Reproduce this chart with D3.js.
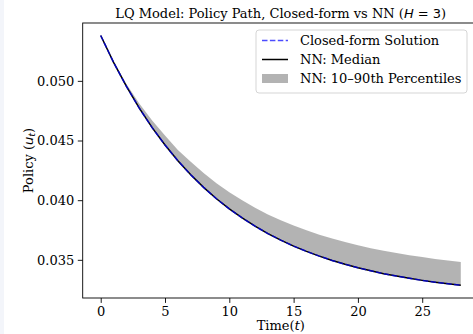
<!DOCTYPE html>
<html>
<head>
<meta charset="utf-8">
<script src="https://cdn.jsdelivr.net/npm/d3@7"></script>
<style>
  html, body { margin: 0; padding: 0; background: #ffffff; }
  svg { display: block; }
  text { font-family: "DejaVu Serif", serif; fill: #000; }
  .math { font-family: "DejaVu Sans", sans-serif; }
</style>
</head>
<body>
<svg id="chart" width="473" height="334"></svg>
<script>
// Time steps
const times = [0, 1, 2, 3, 4, 5, 6, 7, 8, 9, 10, 11, 12, 13, 14, 15, 16, 17, 18, 19, 20, 21, 22, 23, 24, 25, 26, 27, 28];

// Closed-form policy path
const closedForm = [0.05380, 0.05155, 0.04953, 0.04771, 0.04608, 0.04462, 0.04331, 0.04213, 0.04107, 0.04012,
  0.03927, 0.03851, 0.03782, 0.03720, 0.03665, 0.03615, 0.03571, 0.03531, 0.03495, 0.03463,
  0.03434, 0.03408, 0.03384, 0.03364, 0.03345, 0.03328, 0.03313, 0.03299, 0.03287];

// NN median policy path
const nnMedian = [0.05380, 0.05155, 0.04953, 0.04771, 0.04608, 0.04462, 0.04331, 0.04213, 0.04107, 0.04012,
  0.03927, 0.03851, 0.03782, 0.03720, 0.03665, 0.03615, 0.03571, 0.03531, 0.03495, 0.03463,
  0.03434, 0.03408, 0.03384, 0.03364, 0.03345, 0.03328, 0.03313, 0.03299, 0.03287];

// NN 10th and 90th percentiles
const nnP10 = [0.05378, 0.05153, 0.04951, 0.04769, 0.04606, 0.04460, 0.04329, 0.04211, 0.04105, 0.04010,
  0.03925, 0.03849, 0.03780, 0.03718, 0.03663, 0.03613, 0.03569, 0.03529, 0.03493, 0.03461,
  0.03432, 0.03406, 0.03382, 0.03362, 0.03343, 0.03326, 0.03311, 0.03297, 0.03285];
const nnP90 = [0.05380, 0.05165, 0.04973, 0.04811, 0.04668, 0.04542, 0.04421, 0.04323, 0.04227, 0.04142,
  0.04067, 0.03999, 0.03937, 0.03880, 0.03832, 0.03787, 0.03747, 0.03711, 0.03678, 0.03649,
  0.03622, 0.03598, 0.03576, 0.03557, 0.03539, 0.03523, 0.03508, 0.03494, 0.03482];

const xTicks = [0, 5, 10, 15, 20, 25];
const yTicks = [0.035, 0.040, 0.045, 0.050];

const svg = d3.select("#chart");
const plotLeft = 82.7, plotRight = 478.8, plotTop = 23, plotBottom = 298;
const fs = 13;

// light strip on the left edge of the figure
svg.append("rect").attr("x", 0).attr("y", 0).attr("width", 4).attr("height", 334).attr("fill", "#f3f5fa");

// Domains padded by 5% like the plotting default
const xMin = d3.min(times), xMax = d3.max(times);
const xPad = (xMax - xMin) * 0.05;
const yMin = d3.min(nnP10.concat(closedForm, nnMedian));
const yMax = d3.max(nnP90.concat(closedForm, nnMedian));
const yPad = (yMax - yMin) * 0.05;

const x = d3.scaleLinear().domain([xMin - xPad, xMax + xPad]).range([plotLeft, plotRight]);
const y = d3.scaleLinear().domain([yMin - yPad, yMax + yPad]).range([plotBottom, plotTop]);

const rows = times.map((t, i) => ({ t, cf: closedForm[i], med: nnMedian[i], lo: nnP10[i], hi: nnP90[i] }));

// Percentile band
svg.append("path")
  .datum(rows)
  .attr("fill", "#808080")
  .attr("fill-opacity", 0.6)
  .attr("d", d3.area().x(d => x(d.t)).y0(d => y(d.lo)).y1(d => y(d.hi)));

// NN median
svg.append("path")
  .datum(rows)
  .attr("fill", "none")
  .attr("stroke", "#000")
  .attr("stroke-width", 1.5)
  .attr("d", d3.line().x(d => x(d.t)).y(d => y(d.med)));

// Closed-form solution
svg.append("path")
  .datum(rows)
  .attr("fill", "none")
  .attr("stroke", "#0000ff")
  .attr("stroke-opacity", 0.7)
  .attr("stroke-width", 1.5)
  .attr("stroke-dasharray", "5.5,2.4")
  .attr("d", d3.line().x(d => x(d.t)).y(d => y(d.cf)));

// Axes frame
svg.append("rect")
  .attr("x", plotLeft).attr("y", plotTop)
  .attr("width", plotRight - plotLeft).attr("height", plotBottom - plotTop)
  .attr("fill", "none").attr("stroke", "#000").attr("stroke-width", 0.9);

const xAxis = svg.append("g")
  .attr("transform", `translate(0,${plotBottom})`)
  .call(d3.axisBottom(x).tickValues(xTicks).tickFormat(d3.format("d")).tickSize(4.9).tickPadding(3.5));
const yAxis = svg.append("g")
  .attr("transform", `translate(${plotLeft},0)`)
  .call(d3.axisLeft(y).tickValues(yTicks).tickFormat(d3.format(".3f")).tickSize(4.9).tickPadding(3.5));
[xAxis, yAxis].forEach(g => {
  g.select(".domain").remove();
  g.selectAll(".tick line").attr("stroke", "#000").attr("stroke-width", 0.9);
  g.selectAll(".tick text").attr("font-family", "DejaVu Serif").attr("font-size", fs).attr("fill", "#000");
});

// Title
const title = svg.append("text")
  .attr("x", (plotLeft + plotRight) / 2).attr("y", 18)
  .attr("text-anchor", "middle").attr("font-size", fs);
title.append("tspan").text("LQ Model: Policy Path, Closed-form vs NN (");
title.append("tspan").attr("class", "math").attr("font-style", "italic").text("H");
title.append("tspan").attr("class", "math").text(" = 3");
title.append("tspan").text(")");

// Axis labels
const xl = svg.append("text")
  .attr("x", (plotLeft + plotRight) / 2).attr("y", 330)
  .attr("text-anchor", "middle").attr("font-size", fs);
xl.append("tspan").text("Time(");
xl.append("tspan").attr("class", "math").attr("font-style", "italic").text("t");
xl.append("tspan").text(")");

const yl = svg.append("text")
  .attr("transform", `translate(32.5,${(plotTop + plotBottom) / 2}) rotate(-90)`)
  .attr("text-anchor", "middle").attr("font-size", fs);
yl.append("tspan").text("Policy (");
yl.append("tspan").attr("class", "math").attr("font-style", "italic").text("u");
yl.append("tspan").attr("class", "math").attr("font-style", "italic").attr("font-size", 9.5).attr("dy", 2.5).text("t");
yl.append("tspan").attr("dy", -2.5).text(")");

// Legend
const lg = svg.append("g").attr("transform", "translate(256,30)");
lg.append("rect")
  .attr("x", 0).attr("y", 0).attr("width", 211).attr("height", 63).attr("rx", 3)
  .attr("fill", "#fff").attr("fill-opacity", 0.8)
  .attr("stroke", "#d0d0d0").attr("stroke-width", 0.9);
const items = [
  { label: "Closed-form Solution", kind: "dash" },
  { label: "NN: Median", kind: "line" },
  { label: "NN: 10\u201390th Percentiles", kind: "band" }
];
items.forEach((it, i) => {
  const cy = 10.5 + i * 19;
  if (it.kind === "band") {
    lg.append("rect").attr("x", 6).attr("y", cy - 4.5).attr("width", 26).attr("height", 9)
      .attr("fill", "#808080").attr("fill-opacity", 0.6);
  } else {
    lg.append("line").attr("x1", 6).attr("x2", 32).attr("y1", cy).attr("y2", cy)
      .attr("stroke", it.kind === "dash" ? "#0000ff" : "#000")
      .attr("stroke-opacity", it.kind === "dash" ? 0.7 : 1)
      .attr("stroke-width", 1.5)
      .attr("stroke-dasharray", it.kind === "dash" ? "5.5,2.4" : null);
  }
  lg.append("text").attr("x", 44).attr("y", cy + 4.5).attr("font-size", fs).text(it.label);
});
</script>
</body>
</html>
